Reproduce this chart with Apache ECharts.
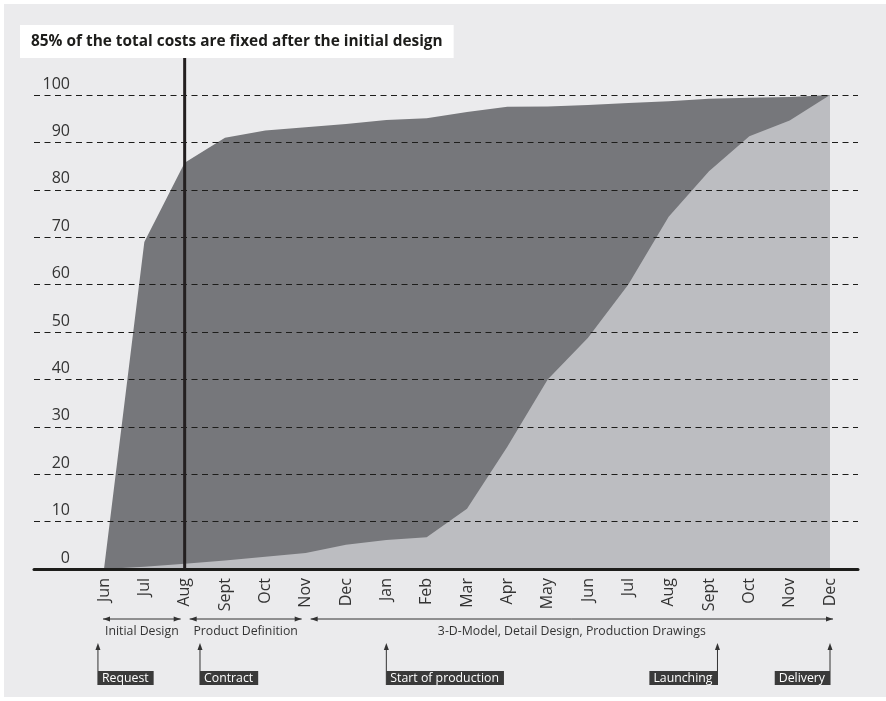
<!DOCTYPE html>
<html>
<head>
<meta charset="utf-8">
<script src="https://cdn.jsdelivr.net/npm/echarts@6/dist/echarts.min.js"></script>
<style>
  html, body { margin: 0; padding: 0; background: #fff; }
  #chart { width: 886px; height: 701px; }
</style>
</head>
<body>
<div id="chart"></div>
<script>
// Months of the project, two calendar years
const months = ["Jun", "Jul", "Aug", "Sept", "Oct", "Nov", "Dec", "Jan", "Feb", "Mar", "Apr", "May", "Jun", "Jul", "Aug", "Sept", "Oct", "Nov", "Dec"];

// Costs fixed (dark area) and costs incurred (light area), in %
const costsFixed = [0, 69, 85.7, 91, 92.5, 93.2, 93.9, 94.7, 95.1, 96.4, 97.5, 97.6, 97.9, 98.3, 98.7, 99.2, 99.4, 99.6, 100];
const costsIncurred = [0, 0.5, 1.1, 1.8, 2.6, 3.4, 5.1, 6.1, 6.7, 12.7, 25.8, 40, 48.8, 60, 74.3, 83.9, 91.3, 94.6, 100];

const titleText = "85% of the total costs are fixed after the initial design";

// Project phases (month index from / to)
const phases = [
  { label: "Initial Design", from: 0, to: 2 },
  { label: "Product Definition", from: 2, to: 5 },
  { label: "3-D-Model, Detail Design, Production Drawings", from: 5, to: 18 }
];

// Milestones (month index, box on which side of the pointer)
const milestones = [
  { label: "Request", at: -0.15, side: "right" },
  { label: "Contract", at: 2.38, side: "right" },
  { label: "Start of production", at: 7, side: "right" },
  { label: "Launching", at: 15.21, side: "left" },
  { label: "Delivery", at: 18, side: "left" }
];

const decisionMonth = 2; // Aug, end of the initial design

const FONT = "Open Sans";
const TEXT = "#333333";

var dom = document.getElementById("chart");
var myChart = echarts.init(dom, null, { renderer: "canvas" });

var option = {
  backgroundColor: "#ffffff",
  animation: false,
  title: {
    text: titleText,
    left: 20,
    top: 25,
    backgroundColor: "#ffffff",
    padding: [8, 11, 8, 11],
    textStyle: { fontFamily: FONT, fontSize: 15.4, fontWeight: "bold", color: "#1d1d1b", lineHeight: 17 }
  },
  grid: [
    { left: 104, right: 56, top: 95, bottom: 132 },
    { left: 34, right: 28, top: 95, bottom: 132 }
  ],
  xAxis: [
    {
      type: "category",
      gridIndex: 0,
      data: months,
      boundaryGap: false,
      axisLine: { show: false },
      axisTick: { show: false },
      axisLabel: { rotate: 90, margin: 9, fontFamily: FONT, fontSize: 16, color: TEXT, interval: 0 }
    },
    {
      type: "value",
      gridIndex: 1,
      min: 0,
      max: 1,
      z: 10,
      axisLine: { show: true, onZero: false, lineStyle: { color: "#1d1d1b", width: 3 } },
      axisTick: { show: false },
      axisLabel: { show: false },
      splitLine: { show: false }
    }
  ],
  yAxis: [
    { type: "value", gridIndex: 0, min: 0, max: 100, show: false },
    {
      type: "value",
      gridIndex: 1,
      min: 0,
      max: 100,
      interval: 10,
      z: 10,
      axisLine: { show: false },
      axisTick: { show: false },
      axisLabel: {
        inside: true,
        margin: 36,
        align: "right",
        verticalAlign: "bottom",
        padding: [0, 0, 3, 0],
        fontFamily: FONT,
        fontSize: 16,
        color: TEXT
      },
      splitLine: { show: true, lineStyle: { color: "#1d1d1b", width: 1.2, type: [6, 4.5] } }
    }
  ],
  series: [
    {
      name: "Costs fixed",
      type: "line",
      xAxisIndex: 0,
      yAxisIndex: 0,
      data: costsFixed,
      symbol: "none",
      lineStyle: { width: 0 },
      areaStyle: { color: "#76777b", opacity: 1 },
      z: 2
    },
    {
      name: "Costs incurred",
      type: "line",
      xAxisIndex: 0,
      yAxisIndex: 0,
      data: costsIncurred,
      symbol: "none",
      lineStyle: { width: 0 },
      areaStyle: { color: "#bcbdc1", opacity: 1 },
      z: 3
    }
  ]
};

myChart.setOption(option);

// Annotations placed with the chart's own scales
function monthX(i) {
  var p0 = myChart.convertToPixel({ xAxisIndex: 0 }, 0);
  var p1 = myChart.convertToPixel({ xAxisIndex: 0 }, months.length - 1);
  return p0 + (p1 - p0) * i / (months.length - 1);
}

var baseY = myChart.convertToPixel({ yAxisIndex: 0 }, 0);
var graphics = [];

// light panel behind everything
graphics.push({
  type: "rect",
  z: -100,
  silent: true,
  shape: { x: 4, y: 4, width: 882, height: 693 },
  style: { fill: "#ebebed" }
});

// vertical line at the end of the initial design
graphics.push({
  type: "line",
  z: 20,
  shape: { x1: monthX(decisionMonth), y1: 58, x2: monthX(decisionMonth), y2: baseY },
  style: { stroke: "#231f20", lineWidth: 3 }
});

function arrowHead(x, y, dir) {
  // dir: 1 right, -1 left, 0 up
  var pts;
  if (dir === 0) pts = [[x, y], [x - 2.5, y + 7], [x + 2.5, y + 7]];
  else pts = [[x, y], [x - dir * 7, y - 2.5], [x - dir * 7, y + 2.5]];
  return { type: "polygon", z: 20, shape: { points: pts }, style: { fill: TEXT } };
}

var phaseY = baseY + 50;
phases.forEach(function (ph, k) {
  var x1 = monthX(ph.from) + (k === 0 ? -1 : 5);
  var x2 = monthX(ph.to) + (k === phases.length - 1 ? 3 : -4);
  graphics.push({
    type: "line",
    z: 20,
    shape: { x1: x1, y1: phaseY, x2: x2, y2: phaseY },
    style: { stroke: TEXT, lineWidth: 1 }
  });
  graphics.push(arrowHead(x1, phaseY, -1));
  graphics.push(arrowHead(x2, phaseY, 1));
  graphics.push({
    type: "text",
    z: 20,
    x: (x1 + x2) / 2,
    y: phaseY + 12,
    style: { text: ph.label, fontFamily: FONT, fontSize: 12.3, fill: TEXT, align: "center", verticalAlign: "middle" }
  });
});

var markTop = baseY + 74;
var boxTop = baseY + 102;
var boxH = 14;
milestones.forEach(function (m) {
  var x = monthX(m.at);
  graphics.push({
    type: "line",
    z: 20,
    shape: { x1: x, y1: markTop + 4, x2: x, y2: boxTop + boxH },
    style: { stroke: TEXT, lineWidth: 1 }
  });
  graphics.push(arrowHead(x, markTop, 0));
  graphics.push({
    type: "text",
    z: 20,
    x: x,
    y: boxTop + boxH / 2,
    style: {
      text: m.label,
      fontFamily: FONT,
      fontSize: 12.3,
      fill: "#ffffff",
      align: m.side === "right" ? "left" : "right",
      verticalAlign: "middle",
      backgroundColor: "#3a3a3a",
      padding: [1, 5, 1, 4],
      lineHeight: 12
    }
  });
});

myChart.setOption({ graphic: graphics });

window.addEventListener("resize", myChart.resize);
</script>
</body>
</html>
